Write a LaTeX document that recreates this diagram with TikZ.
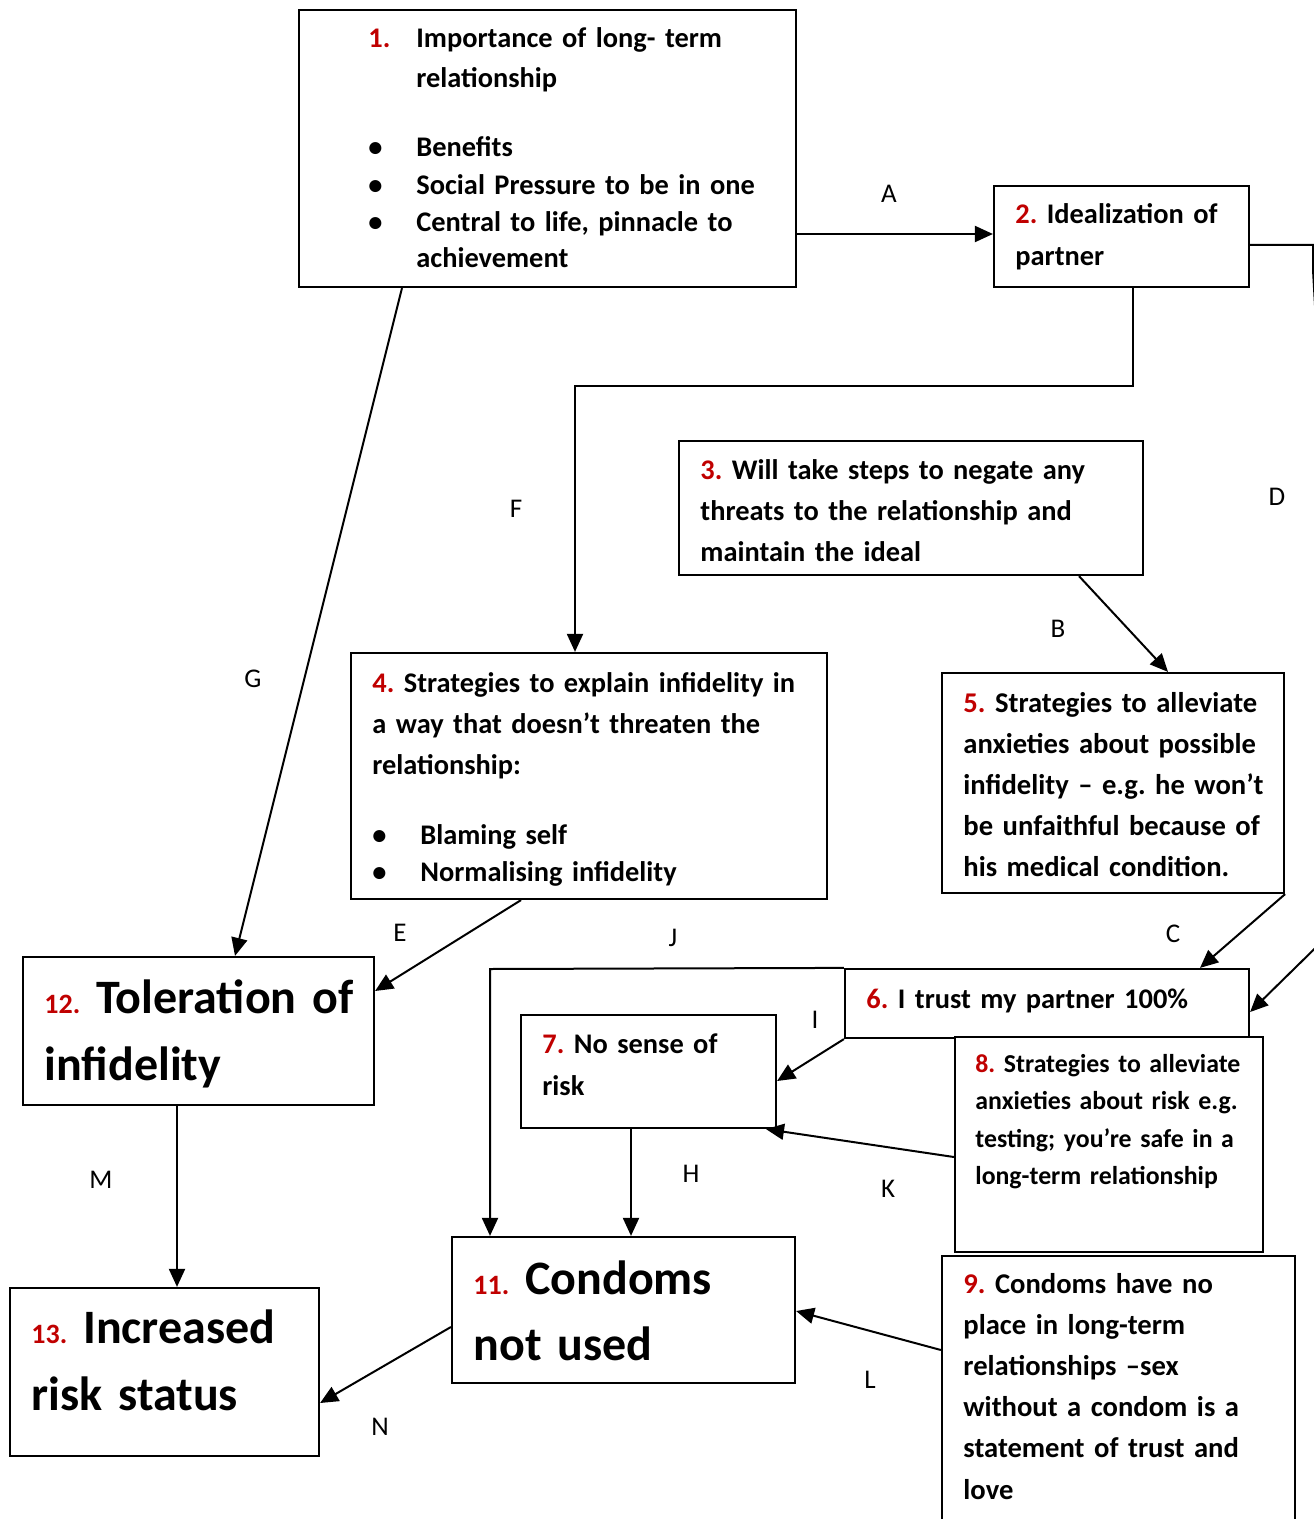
\documentclass[tikz,border=0pt]{standalone}
\usepackage{fontspec}
\setmainfont{Carlito}
\usetikzlibrary{arrows.meta,fit,calc}
\definecolor{numred}{RGB}{192,0,0}
\newcommand{\nr}[1]{\textcolor{numred}{#1}}
\newcommand{\bul}{\makebox[24pt][l]{•}}
\newcommand{\ind}{\hspace*{24pt}}
\begin{document}
\frenchspacing
\begin{tikzpicture}[x=0.5pt,y=-0.5pt,
  box/.style={draw, line width=1.1pt, fill=white, inner sep=0pt},
  tx/.style={anchor=base west, inner sep=0pt, align=left, text width=300pt},
  ln/.style={line width=1pt},
  arr/.style={line width=1pt, -{Triangle[length=9pt,width=8pt]}},
  lab/.style={inner sep=0pt, font=\fontsize{13.5}{16}\selectfont}]
\path[use as bounding box, fill=white] (0,0) rectangle (1313,1519);

% boxes
\node[box, fit={(299,10) (796,287)}] (b1) {};
\node[box, fit={(994,186) (1249,287)}] (b2) {};
\node[box, fit={(679,441) (1143,575)}] (b3) {};
\node[box, fit={(351,653) (827,899)}] (b4) {};
\node[box, fit={(942,673) (1284,893)}] (b5) {};
\node[box, fit={(845,969) (1249,1038)}] (b6) {};
\node[box, fit={(521,1015) (776,1128)}] (b7) {};
\node[box, fit={(955,1037) (1263,1252)}] (b8) {};
\node[box, fit={(942,1256) (1295,1545)}] (b9) {};
\node[box, fit={(452,1237) (795,1383)}] (b11) {};
\node[box, fit={(23,957) (374,1105)}] (b12) {};
\node[box, fit={(10,1288) (319,1456)}] (b13) {};

% texts
\node[tx, font=\bfseries\fontsize{14.2}{20}\selectfont] (t1) at (368,48)
  {\makebox[24pt][l]{\nr{1.}}Importance of long- term\\[0pt]
   \ind relationship\\[14.5pt]
   \bul Benefits\\[-1pt]
   \bul Social Pressure to be in one\\[-1.5pt]
   \bul Central to life, pinnacle to\\[-2pt]
   \ind achievement};
\node[tx, font=\bfseries\fontsize{14.2}{21}\selectfont] (t2) at (1015,224)
  {\nr{2.} Idealization of\\partner};
\node[tx, font=\bfseries\fontsize{14.2}{20.5}\selectfont] (t3) at (700,479)
  {\nr{3.} Will take steps to negate any\\threats to the relationship and\\maintain the ideal};
\node[tx, font=\bfseries\fontsize{14.2}{20.5}\selectfont] (t4) at (372,692)
  {\nr{4.} Strategies to explain infidelity in\\a way that doesn’t threaten the\\relationship:\\[14.5pt]
   \bul Blaming self\\[-2pt]
   \bul Normalising infidelity};
\node[tx, font=\bfseries\fontsize{14.3}{20.6}\selectfont] (t5) at (963,712)
  {\nr{5.} Strategies to alleviate\\anxieties about possible\\infidelity – e.g. he won’t\\be unfaithful because of\\his medical condition.};
\node[tx, font=\bfseries\fontsize{14.2}{20.5}\selectfont] (t6) at (866,1008)
  {\nr{6.} I trust my partner 100\%};
\node[tx, font=\bfseries\fontsize{14.2}{21}\selectfont] (t7) at (542,1053)
  {\nr{7.} No sense of\\risk};
\node[tx, font=\bfseries\fontsize{12.9}{18.8}\selectfont] (t8) at (975,1072)
  {\nr{8.} Strategies to alleviate\\anxieties about risk e.g.\\testing; you’re safe in a\\long-term relationship};
\node[tx, font=\bfseries\fontsize{14.3}{20.6}\selectfont] (t9) at (963,1293)
  {\nr{9.} Condoms have no\\place in long-term\\relationships –sex\\without a condom is a\\statement of trust and\\love};
\node[tx, font=\bfseries\fontsize{24}{33}\selectfont] (t11) at (473,1294)
  {{\fontsize{14}{14}\selectfont\nr{11.}} Condoms\\not used};
\node[tx, font=\bfseries\fontsize{24}{33.5}\selectfont] (t12) at (44,1013)
  {{\fontsize{14}{14}\selectfont\nr{12.}} Toleration of\\infidelity};
\node[tx, font=\bfseries\fontsize{24}{33.5}\selectfont] (t13) at (31,1343)
  {{\fontsize{14}{14}\selectfont\nr{13.}} Increased\\risk status};

% helper coordinates
\coordinate (f1) at (1133,386);
\coordinate (f2) at (575,386);
\coordinate (j1) at (490,969);
\coordinate (d1) at (1313,245);
\coordinate (d2) at (1313,270);
\coordinate (d3) at (1349,915);

% connectors
\draw[arr] (b1.east |- 0,234) -- (b2.west |- 0,234);
\draw[arr] (b2.east |- d1) -- (d1) -- (d2) -- (d3) -- (b6.east |- 0,1012);
\draw[arr] (b2.south -| f1) -- (f1) -- (f2) -- (b4.north -| f2);
\draw[arr] (b3.south -| 1079,0) -- (b5.north -| 1168,0);
\draw[arr] (b5.south east) -- (b6.north -| 1200,0);
\draw[arr] (b4.south -| 521,0) -- (b12.east |- 0,991);
\draw[arr] (b1.south -| 402,0) -- (b12.north -| 235,0);
\draw[arr] (b6.north west) -- (j1) -- (b11.north -| j1);
\draw[arr] (b6.south west) -- (b7.east |- 0,1081);
\draw[arr] (b8.west |- 0,1157) -- (b7.south -| 766,0);
\draw[arr] (b7.south -| 631,0) -- (b11.north -| 631,0);
\draw[arr] (b9.west |- 0,1350) -- (b11.east |- 0,1311);
\draw[arr] (b12.south -| 177,0) -- (b13.north -| 177,0);
\draw[arr] (b11.west |- 0,1327) -- (b13.east |- 0,1403);

% labels
\node[lab] (lA) at (889,194) {A};
\node[lab] (lB) at (1058,629) {B};
\node[lab] (lC) at (1173,934) {C};
\node[lab] (lD) at (1277,497) {D};
\node[lab] (lE) at (400,933) {E};
\node[lab] (lF) at (516,509) {F};
\node[lab] (lG) at (253,679) {G};
\node[lab] (lH) at (691,1174) {H};
\node[lab] (lI) at (815,1020) {I};
\node[lab] (lJ) at (673,938) {J};
\node[lab] (lK) at (888,1189) {K};
\node[lab] (lL) at (870,1380) {L};
\node[lab] (lM) at (101,1180) {M};
\node[lab] (lN) at (380,1427) {N};
\end{tikzpicture}
\end{document}
